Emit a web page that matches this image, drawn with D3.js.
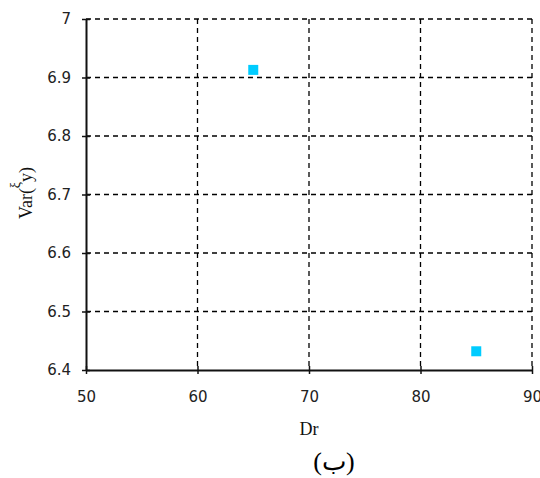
<!DOCTYPE html>
<html>
<head>
<meta charset="utf-8">
<script src="https://cdn.jsdelivr.net/npm/d3@7.9.0/dist/d3.min.js"></script>
<style>
  body { margin: 0; background: #fff; }
</style>
</head>
<body>
<svg id="chart"></svg>
<script>
// data
const drValues = [65, 85];
const varValues = [6.913, 6.432];
const xTicks = [50, 60, 70, 80, 90];
const yTicks = [6.4, 6.5, 6.6, 6.7, 6.8, 6.9, 7];

const width = 540;
const height = 478;
const margin = { top: 19, right: 8, bottom: 108, left: 86 };

const svg = d3.select('#chart')
    .attr('width', width)
    .attr('height', height);

const x = d3.scaleLinear().domain([50, 90]).range([margin.left, width - margin.right]);
const y = d3.scaleLinear().domain([6.4, 7]).range([height - margin.bottom, margin.top]);

// dashed grid
svg.append('g')
  .selectAll('line')
  .data(xTicks.slice(1))
  .join('line')
  .attr('x1', d => x(d)).attr('x2', d => x(d))
  .attr('y1', y(7)).attr('y2', y(6.4))
  .attr('stroke', '#000')
  .attr('stroke-width', 1.3)
  .attr('stroke-dasharray', '5,4');

svg.append('g')
  .selectAll('line')
  .data(yTicks.slice(1))
  .join('line')
  .attr('x1', x(50)).attr('x2', x(90))
  .attr('y1', d => y(d)).attr('y2', d => y(d))
  .attr('stroke', '#000')
  .attr('stroke-width', 1.3)
  .attr('stroke-dasharray', '5,4');

// axes
const xAxis = svg.append('g')
  .attr('transform', `translate(0,${y(6.4)})`)
  .call(d3.axisBottom(x).tickValues(xTicks).tickSize(4).tickPadding(17).tickSizeOuter(0));

const yAxis = svg.append('g')
  .attr('transform', `translate(${x(50)},0)`)
  .call(d3.axisLeft(y).tickValues(yTicks).tickSize(4).tickPadding(11).tickSizeOuter(0)
    .tickFormat(d3.format('')));

[xAxis, yAxis].forEach(a => {
  a.select('.domain').attr('stroke', '#111').attr('stroke-width', 2);
  a.selectAll('.tick line').attr('stroke', '#111').attr('stroke-width', 1.5);
  a.selectAll('.tick text')
    .attr('font-family', 'DejaVu Sans')
    .attr('font-size', 15)
    .attr('fill', '#222');
});
// crosses: tick marks go both sides of the axis
xAxis.selectAll('.tick line').attr('y1', -4).attr('y2', 4);
yAxis.selectAll('.tick line').attr('x1', -4).attr('x2', 4);

// points
svg.append('g')
  .selectAll('rect')
  .data(drValues.map((d, i) => [d, varValues[i]]))
  .join('rect')
  .attr('x', d => x(d[0]) - 5)
  .attr('y', d => y(d[1]) - 5)
  .attr('width', 10)
  .attr('height', 10)
  .attr('fill', '#00ccff');

// axis titles
svg.append('text')
  .attr('x', x(70))
  .attr('y', 435)
  .attr('text-anchor', 'middle')
  .attr('font-family', 'Liberation Serif')
  .attr('font-size', 18)
  .attr('fill', '#111')
  .text('Dr');

const yt = svg.append('text')
  .attr('transform', 'translate(32,193) rotate(-90)')
  .attr('text-anchor', 'middle')
  .attr('font-family', 'Liberation Serif')
  .attr('font-size', 18)
  .attr('fill', '#111');
yt.append('tspan').text('Var(');
yt.append('tspan').attr('dy', -12).attr('font-size', 14).text('ξ');
yt.append('tspan').attr('dy', 12).text('y)');

// caption
svg.append('text')
  .attr('x', 334)
  .attr('y', 470)
  .attr('text-anchor', 'middle')
  .attr('font-family', 'Liberation Serif')
  .attr('font-size', 26)
  .attr('fill', '#000')
  .text('(ب)');
</script>
</body>
</html>
